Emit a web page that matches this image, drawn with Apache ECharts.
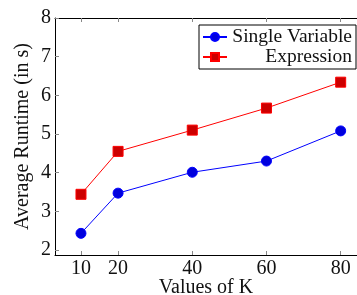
<!DOCTYPE html>
<html>
<head>
<meta charset="utf-8">
<script src="https://cdn.jsdelivr.net/npm/echarts@6/dist/echarts.min.js"></script>
<style>
  html, body { margin: 0; padding: 0; background: #fff; }
  #chart { width: 357px; height: 295px; }
</style>
</head>
<body>
<div id="chart"></div>
<script>
// values of K on the x axis
const kValues = [10, 20, 40, 60, 80];
const yTicks = [2, 3, 4, 5, 6, 7, 8];
// average runtime in seconds
const singleVariable = [2.43, 3.47, 4.01, 4.30, 5.08];
const expression = [3.44, 4.55, 5.10, 5.67, 6.34];

const font = 'Liberation Serif';
const chart = echarts.init(document.getElementById('chart'));

const tickStyle = { show: true, inside: true, length: 4, lineStyle: { color: '#888' } };

chart.setOption({
  animation: false,
  textStyle: { fontFamily: font },
  grid: { left: 55, right: 0, top: 18, bottom: 40, containLabel: false, outerBoundsMode: 'none' },
  legend: {
    orient: 'vertical',
    right: 1,
    top: 25,
    itemWidth: 24,
    itemHeight: 10,
    itemGap: 0,
    padding: [2, 4, 2, 3],
    borderColor: '#000',
    borderWidth: 1,
    backgroundColor: '#fff',
    formatter: name => '{t|' + name + '}',
    textStyle: {
      rich: { t: { fontFamily: font, fontSize: 19.5, lineHeight: 20, color: '#111', width: 120, align: 'right' } }
    },
    data: ['Single Variable', 'Expression']
  },
  xAxis: [
    {
      type: 'value', min: 3.0, max: 84.4, position: 'bottom',
      name: 'Values of K', nameLocation: 'middle', nameGap: 23, nameMoveOverlap: false,
      nameTextStyle: { fontFamily: font, fontSize: 20, color: '#111', verticalAlign: 'top' },
      axisLine: { show: true, lineStyle: { color: '#000', width: 1 } },
      axisTick: Object.assign({ customValues: kValues }, tickStyle),
      axisLabel: { customValues: kValues, fontFamily: font, fontSize: 20, color: '#111', margin: 4 },
      splitLine: { show: false }
    },
    {
      type: 'value', min: 3.0, max: 84.4, position: 'top',
      axisLine: { show: true, lineStyle: { color: '#000', width: 1 } },
      axisTick: Object.assign({ customValues: kValues }, tickStyle),
      axisLabel: { show: false },
      splitLine: { show: false }
    }
  ],
  yAxis: {
    type: 'value', min: 1.87, max: 8,
    name: 'Average Runtime (in s)', nameLocation: 'middle', nameGap: 22, nameMoveOverlap: false,
    nameTextStyle: { fontFamily: font, fontSize: 20, color: '#111' },
    axisLine: { show: true, lineStyle: { color: '#000', width: 1 } },
    axisTick: Object.assign({ customValues: yTicks }, tickStyle),
    axisLabel: { customValues: yTicks, fontFamily: font, fontSize: 20, color: '#111', margin: 4 },
    splitLine: { show: false }
  },
  series: [
    {
      name: 'Single Variable', type: 'line',
      data: kValues.map((k, i) => [k, singleVariable[i]]),
      symbol: 'circle', symbolSize: 10,
      lineStyle: { color: '#0000ff', width: 1 },
      itemStyle: { color: '#0000dd', borderColor: '#0000ff', borderWidth: 1 }
    },
    {
      name: 'Expression', type: 'line',
      data: kValues.map((k, i) => [k, expression[i]]),
      symbol: 'rect', symbolSize: 10,
      lineStyle: { color: '#ff0000', width: 1 },
      itemStyle: { color: '#cc0000', borderColor: '#ff0000', borderWidth: 1 }
    }
  ]
});
</script>
</body>
</html>
